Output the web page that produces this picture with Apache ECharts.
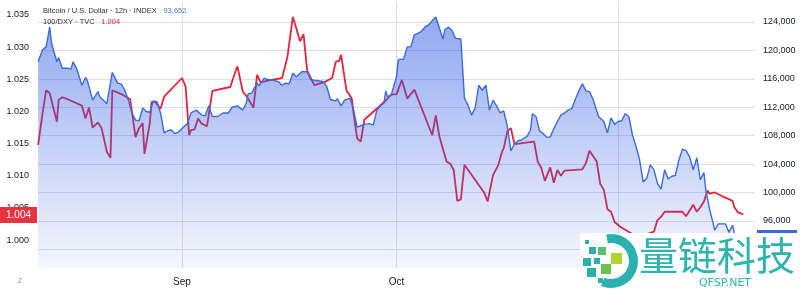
<!DOCTYPE html>
<html><head><meta charset="utf-8">
<script src="https://cdn.jsdelivr.net/npm/echarts@6/dist/echarts.min.js"></script>
<style>html,body{margin:0;padding:0;background:#fff}#c{width:800px;height:293px}</style>
</head><body><div id="c"></div>
<script>
const year = 2025;
const btcDates = [
'08-11 21','08-12 12','08-13 00','08-13 12','08-13 18','08-14 12','08-14 18','08-15 06','08-16 00','08-16 12','08-16 18','08-17 06','08-18 00','08-18 12','08-18 18','08-19 12','08-20 06','08-20 12','08-21 00','08-21 12','08-21 18','08-22 06','08-23 00','08-23 12','08-24 00','08-24 12','08-25 00','08-25 12','08-26 00','08-26 12','08-27 00','08-27 12','08-28 00','08-28 12','08-29 00','08-29 12','08-30 00','08-30 12','08-31 00','08-31 12',
'09-01 00','09-01 18','09-02 06','09-03 00','09-03 06','09-03 18','09-04 06','09-04 18','09-05 06','09-06 00','09-06 06','09-06 18','09-07 12','09-08 00','09-08 18','09-09 00','09-09 12','09-10 00','09-10 06','09-10 18','09-11 12','09-11 18','09-12 12','09-13 00','09-13 18','09-14 12','09-15 00','09-15 12','09-16 00','09-16 12','09-17 00','09-17 06','09-17 18','09-18 12','09-19 00','09-19 12','09-20 06','09-20 18','09-21 06','09-21 18','09-22 12','09-22 18','09-23 06','09-23 18','09-24 12','09-25 00','09-25 12','09-26 00','09-26 12','09-26 18','09-27 06','09-27 18','09-28 06','09-28 18','09-29 06','09-29 12','09-29 18','09-30 06',
'10-01 00','10-01 06','10-02 00','10-02 12','10-03 00','10-03 12','10-04 00','10-04 12','10-05 00','10-05 12','10-06 00','10-06 12','10-06 18','10-07 12','10-07 18','10-08 06','10-08 18','10-09 06','10-10 00','10-10 12','10-11 00','10-11 12','10-12 00','10-12 12','10-13 00','10-13 12','10-14 00','10-14 12','10-15 00','10-15 12','10-16 00','10-16 12','10-17 00','10-17 12','10-18 00','10-18 12','10-19 06','10-19 18','10-20 00','10-20 12','10-21 00','10-21 12','10-22 00','10-22 12','10-23 00','10-23 12','10-24 00','10-24 12','10-25 00','10-25 12','10-26 00','10-26 12','10-27 00','10-27 12','10-28 00','10-28 12','10-28 18','10-29 06','10-30 00','10-30 12','10-31 00','10-31 12',
'11-01 00','11-01 12','11-02 00','11-02 12','11-03 00','11-03 12','11-04 00','11-04 12','11-05 00','11-05 12','11-06 00','11-06 12','11-07 00','11-07 12','11-08 00','11-08 12','11-09 00','11-09 12','11-10 00','11-10 12','11-11 00','11-11 12','11-12 00','11-12 12','11-13 00','11-13 06','11-13 18','11-14 06','11-14 12','11-15 00','11-15 12','11-16 00','11-16 12','11-17 00','11-17 06','11-17 18'
];
const btcValues = [
118400,120100,120500,123300,121000,118400,119000,117500,117500,117400,118400,117500,115100,116200,115800,113000,114200,113500,113000,112500,112400,116900,115400,115300,114400,113000,111200,110200,110100,111900,111400,111300,112900,112800,111200,108400,108700,108800,108300,108500,
109000,109700,111200,111600,111800,110900,110800,112200,110700,110700,110500,111200,111200,112000,112200,112300,111600,112600,113900,114000,115400,115000,116100,115900,115800,115600,115100,115400,115300,116800,116300,116500,117000,117000,115900,115800,115700,115600,114900,113100,112900,113200,112200,113000,113300,111600,109200,109400,109600,109500,109700,109500,111600,112200,112600,114300,113500,113700,
116300,118700,118800,120500,120500,122200,122400,122700,123300,123600,124200,124700,124500,121600,122900,123300,122800,121700,121600,113300,112300,110900,111900,115100,114400,115100,111600,113000,112200,111200,111500,109300,105900,106800,107300,107400,107900,108800,111100,110700,108700,108300,107800,107800,109000,110000,110900,111200,111600,111800,113100,114300,115300,114300,114200,113100,113300,110700,110000,108400,110500,109600,
110000,110100,111100,110700,108100,106500,104600,101500,102000,103900,103200,101300,100500,103200,101900,102300,102400,104600,106100,105900,105000,103200,104900,101800,102800,100400,97800,95800,94700,95600,95600,95600,94400,95400,94300,93652
];
const dxyDates = [
'08-11 21','08-12 12','08-13 00','08-13 12','08-13 18','08-14 12','08-14 18','08-15 06','08-16 00','08-18 00','08-18 12','08-19 00','08-19 12','08-20 06','08-20 18','08-21 12','08-22 00','08-22 06','08-23 12','08-24 18','08-25 12','08-26 00','08-26 12','08-26 18','08-27 12','08-27 18','08-28 06','08-29 00','08-29 12',
'09-01 00','09-01 12','09-02 00','09-02 06','09-02 18','09-03 06','09-03 18','09-04 12','09-05 06','09-07 18','09-08 12','09-08 18','09-09 12','09-10 00','09-10 06','09-11 00','09-11 12','09-12 00','09-13 00','09-15 00','09-15 18','09-16 12','09-17 00','09-17 12','09-18 00','09-18 12','09-19 12','09-21 00','09-22 00','09-22 12','09-23 00','09-23 06','09-24 00','09-24 18','09-25 00','09-25 12','09-26 00','09-26 12','09-29 00','09-29 12','09-30 06',
'10-01 00','10-01 06','10-01 18','10-02 12','10-03 12','10-06 00','10-06 12','10-07 00','10-08 00','10-08 12','10-09 00','10-09 12','10-10 00','10-10 12','10-13 06','10-13 18','10-14 12','10-15 06','10-15 18','10-16 00','10-16 12','10-17 00','10-17 12','10-20 06','10-20 18','10-21 06','10-21 18','10-22 12','10-23 00','10-23 12','10-24 00','10-24 12','10-27 00','10-27 12','10-28 00','10-29 00','10-29 12','10-30 00','10-30 12','10-31 00','10-31 12',
'11-01 06','11-02 18','11-04 00','11-06 00','11-06 12','11-07 00','11-07 12','11-10 00','11-10 12','11-11 00','11-11 12','11-12 00','11-12 12','11-13 00','11-13 12','11-13 18','11-14 12','11-15 06','11-15 18','11-17 00','11-17 06','11-17 18','11-18 12'
];
const dxyValues = [
1.0148,1.0197,1.0233,1.0228,1.0227,1.0184,1.0218,1.0222,1.0219,1.0209,1.0189,1.0206,1.0175,1.0183,1.0174,1.0137,1.0128,1.0233,1.0227,1.0219,1.0160,1.0174,1.0182,1.0134,1.0182,1.0215,1.0215,1.0204,1.0223,
1.0252,1.0239,1.0163,1.0171,1.0172,1.0189,1.0181,1.0177,1.0232,1.0238,1.0263,1.0270,1.0231,1.0224,1.0226,1.0206,1.0257,1.0245,1.0248,1.0252,1.0285,1.0347,1.0329,1.0309,1.0320,1.0264,1.0241,1.0246,1.0252,1.0277,1.0279,1.0288,1.0233,1.0220,1.0197,1.0158,1.0153,1.0187,1.0212,1.0217,1.0226,
1.0227,1.0234,1.0249,1.0220,1.0234,1.0163,1.0194,1.0161,1.0122,1.0119,1.0109,1.0061,1.0063,1.0117,1.0074,1.0060,1.0101,1.0117,1.0137,1.0143,1.0169,1.0174,1.0149,1.0153,1.0122,1.0112,1.0092,1.0113,1.0089,1.0109,1.0100,1.0108,1.0110,1.0120,1.0139,1.0122,1.0087,1.0078,1.0048,1.0044,1.0028,
1.0021,1.0011,1.0005,1.0013,1.0031,1.0036,1.0044,1.0044,1.0037,1.0046,1.0055,1.0044,1.0051,1.0060,1.0077,1.0072,1.0074,1.0070,1.0067,1.0061,1.0051,1.0043,1.0040
];
const dxyTicks = [1.000, 1.005, 1.010, 1.015, 1.020, 1.025, 1.030, 1.035];
const btcTicks = [92000, 96000, 100000, 104000, 108000, 112000, 116000, 120000, 124000];
const monthTicks = ['09-01 00', '10-01 00', '11-01 00'];
const monthNames = ['Sep', 'Oct', 'Nov'];
const btcTitle = 'Bitcoin / U.S. Dollar · 12h · INDEX';
const dxyTitle = '100/DXY · TVC';
const btcLast = '93,652';
const dxyLast = '1.004';

function t(s) {
  const [md, h] = s.split(' ');
  const [m, d] = md.split('-').map(Number);
  return new Date(year, m - 1, d, Number(h)).getTime();
}
const btcData = btcDates.map((d, i) => [t(d), btcValues[i]]);
const dxyData = dxyDates.map((d, i) => [t(d), dxyValues[i]]);
const monthTs = monthTicks.map(t);

const font = "'Liberation Sans', Arial, sans-serif";
const chart = echarts.init(document.getElementById('c'), null, { renderer: 'canvas' });
chart.setOption({
  animation: false,
  backgroundColor: '#ffffff',
  grid: { left: 38, right: 45, top: 2, bottom: 25, containLabel: false },
  xAxis: {
    type: 'value',
    min: new Date(year, 7, 11, 20, 40).getTime(),
    max: new Date(year, 10, 20, 3, 20).getTime(),
    axisLine: { show: false },
    axisTick: { show: false, customValues: monthTs },
    splitLine: { show: true, lineStyle: { color: '#dcdfe8', width: 1 } },
    axisLabel: {
      customValues: monthTs, margin: 9, color: '#131722', fontSize: 10, fontFamily: font,
      formatter: v => monthNames[monthTs.indexOf(v)] || ''
    }
  },
  yAxis: [
    {
      type: 'value', position: 'left', min: 0.99565, max: 1.03702,
      axisLine: { show: false }, axisTick: { show: false, customValues: dxyTicks },
      splitLine: { show: false },
      axisLabel: { customValues: dxyTicks, margin: 9, color: '#131722', fontSize: 9, fontFamily: font,
        formatter: v => v.toFixed(3) }
    },
    {
      type: 'value', position: 'right', min: 89386, max: 126814,
      axisLine: { show: false }, axisTick: { show: false, customValues: btcTicks },
      splitLine: { show: true, lineStyle: { color: '#dcdfe8', width: 1 } },
      axisLabel: { customValues: btcTicks, margin: 8, color: '#131722', fontSize: 9, fontFamily: font,
        formatter: v => v.toLocaleString('en-US') }
    }
  ],
  series: [
    {
      name: '100/DXY', type: 'line', yAxisIndex: 0, z: 2, data: dxyData,
      showSymbol: false, symbol: 'none',
      lineStyle: { color: '#e3243b', width: 1.8 }, itemStyle: { color: '#e3243b' }
    },
    {
      name: 'BTC', type: 'line', yAxisIndex: 1, z: 3, data: btcData,
      showSymbol: false, symbol: 'none',
      lineStyle: { color: '#3a6bdb', width: 1.4 }, itemStyle: { color: '#3a6bdb' },
      areaStyle: {
        color: { type: 'linear', x: 0, y: 0, x2: 0, y2: 268, global: true,
          colorStops: [ { offset: 0, color: 'rgba(52,94,230,0.82)' }, { offset: 1, color: 'rgba(52,94,230,0.07)' } ] }
      }
    }
  ],
  graphic: [
    { type: 'text', z: 100, left: 43, top: 5, style: { text: '{a|' + btcTitle + '}  {b|' + btcLast + '}',
      rich: { a: { fontSize: 7.5, fill: '#2a2e39', fontFamily: font }, b: { fontSize: 7.5, fill: '#4a7ddb', fontFamily: font } } } },
    { type: 'text', z: 100, left: 43, top: 15.5, style: { text: '{a|' + dxyTitle + '}  {b|' + dxyLast + '}',
      rich: { a: { fontSize: 7.5, fill: '#2a2e39', fontFamily: font }, b: { fontSize: 7.5, fill: '#e3243b', fontFamily: font } } } },
    { type: 'rect', z: 100, shape: { x: 0, y: 207, width: 37, height: 16 }, style: { fill: '#e8323f' } },
    { type: 'text', z: 101, x: 18.5, y: 215, style: { text: dxyLast, fill: '#ffffff', fontSize: 10, fontFamily: font, align: 'center', verticalAlign: 'middle' } },
    { type: 'rect', z: 100, shape: { x: 757, y: 230, width: 40, height: 15 }, style: { fill: '#3a6bdb' } },
    { type: 'text', z: 101, x: 777, y: 238, style: { text: btcLast, fill: '#ffffff', fontSize: 9, fontFamily: font, align: 'center', verticalAlign: 'middle' } },
    { type: 'text', z: 100, x: 20, y: 281, style: { text: 'Z', fill: '#9598a1', fontSize: 7, fontFamily: font, align: 'center', verticalAlign: 'middle' } },
    { type: 'rect', z: 110, shape: { x: 580, y: 233, width: 220, height: 60 }, style: { fill: '#ffffff' } },
    { type: 'sector', z: 111, shape: { cx: 611, cy: 261, r: 27, r0: 18, startAngle: -1.75, endAngle: 1.95, clockwise: true }, style: { fill: '#2bb1b0' } },
    { type: 'rect', z: 111, shape: { x: 585, y: 240, width: 4, height: 4 }, style: { fill: '#2bb1a8' } },
    { type: 'rect', z: 111, shape: { x: 589, y: 247, width: 7, height: 7 }, style: { fill: '#2bb1a8' } },
    { type: 'rect', z: 111, shape: { x: 598, y: 247, width: 8, height: 8 }, style: { fill: '#5cbf6a' } },
    { type: 'rect', z: 111, shape: { x: 583, y: 258, width: 8, height: 8 }, style: { fill: '#2bb1a8' } },
    { type: 'rect', z: 111, shape: { x: 594, y: 258, width: 6, height: 6 }, style: { fill: '#2bb1a8' } },
    { type: 'rect', z: 111, shape: { x: 611, y: 253, width: 11, height: 11 }, style: { fill: '#b6d335' } },
    { type: 'rect', z: 111, shape: { x: 601, y: 264, width: 10, height: 10 }, style: { fill: '#6cc24a' } },
    { type: 'rect', z: 111, shape: { x: 587, y: 268, width: 9, height: 9 }, style: { fill: '#2bb1a8' } },
    { type: 'rect', z: 111, shape: { x: 598, y: 278, width: 5, height: 5 }, style: { fill: '#2bb1a8' } },
    { type: 'text', z: 111, x: 639, y: 255, style: { text: '量链科技', fill: '#2db3b0', fontSize: 39, fontFamily: "'Noto Sans CJK SC', sans-serif", verticalAlign: 'middle' } },
    { type: 'text', z: 111, x: 725, y: 283, style: { text: 'QFSP.NET', fill: '#2db3b0', fontSize: 11, fontFamily: "'DejaVu Sans', sans-serif", align: 'center', verticalAlign: 'middle' } }
  ]
});
</script>
</body></html>
